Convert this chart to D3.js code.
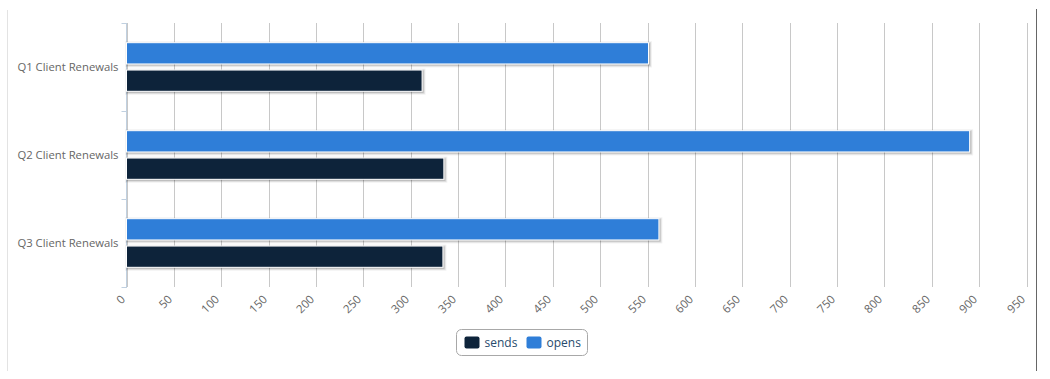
<!DOCTYPE html>
<html>
<head>
<meta charset="utf-8">
<script src="https://cdn.jsdelivr.net/npm/d3@7"></script>
<style>
  body { margin: 0; background: #fff; }
  svg { display: block; font-family: "Open Sans", "DejaVu Sans", sans-serif; }
</style>
</head>
<body>
<div id="chart"></div>
<script>
// chart values
var categories = ["Q1 Client Renewals", "Q2 Client Renewals", "Q3 Client Renewals"];
var seriesNames = ["sends", "opens"];
var sends = [312, 335, 334];
var opens = [551, 890, 562];
var xTicks = d3.range(0, 951, 50);

var colors = { sends: "#0d233a", opens: "#2f7ed8" };

var width = 1050, height = 379;
// note: "top" is taken by window.top, so use plotTop etc.
var plotLeft = 126.5, plotRight = 1026.5, plotTop = 23, plotBottom = 287;

var svg = d3.select("#chart")
    .append("svg")
    .attr("width", width)
    .attr("height", height);

// outer frame lines
svg.append("line")
    .attr("x1", 7.5).attr("x2", 7.5)
    .attr("y1", 10).attr("y2", 371)
    .style("stroke", "#e3e3e3");
svg.append("line")
    .attr("x1", 1036.5).attr("x2", 1036.5)
    .attr("y1", 9).attr("y2", 371)
    .style("stroke", "#666");

var x = d3.scaleLinear().domain([0, 950]).range([plotLeft, plotRight]);
var y = d3.scaleBand().domain(categories).range([plotTop, plotBottom]);
// opens on top, sends below
var inner = d3.scaleBand().domain(["opens", "sends"])
    .range([0, y.bandwidth()])
    .paddingOuter(0.72)
    .paddingInner(0.222);

// vertical grid lines
svg.append("g")
    .selectAll("line")
    .data(xTicks)
    .enter().append("line")
    .attr("x1", function (d) { return Math.round(x(d)) + 0.5; })
    .attr("x2", function (d) { return Math.round(x(d)) + 0.5; })
    .attr("y1", plotTop)
    .attr("y2", plotBottom)
    .style("stroke", "#c8c8c8");

// x tick labels, rotated
svg.append("g")
    .selectAll("text")
    .data(xTicks)
    .enter().append("text")
    .attr("transform", function (d) {
        return "translate(" + (Math.round(x(d)) - 1) + ",300) rotate(-45)";
    })
    .attr("text-anchor", "end")
    .style("font-size", "11.5px")
    .style("fill", "#666")
    .text(function (d) { return d; });

// y axis line with ticks at band edges
var yAxis = svg.append("g");
yAxis.append("line")
    .attr("x1", plotLeft).attr("x2", plotLeft)
    .attr("y1", plotTop).attr("y2", plotBottom + 1)
    .style("stroke", "#c0d0e0");
var edges = categories.map(function (c) { return y(c); }).concat([plotBottom]);
yAxis.selectAll(".tick")
    .data(edges)
    .enter().append("line")
    .attr("class", "tick")
    .attr("x1", plotLeft - 5).attr("x2", plotLeft)
    .attr("y1", function (d) { return d + 0.5; })
    .attr("y2", function (d) { return d + 0.5; })
    .style("stroke", "#c0d0e0");

svg.append("g")
    .selectAll("text")
    .data(categories)
    .enter().append("text")
    .attr("x", plotLeft - 8)
    .attr("y", function (d) { return y(d) + y.bandwidth() / 2 + 4; })
    .attr("text-anchor", "end")
    .style("font-size", "11.3px")
    .style("fill", "#666")
    .text(function (d) { return d; });

// bars
var rows = [];
categories.forEach(function (c, i) {
    rows.push({ cat: c, name: "opens", value: opens[i] });
    rows.push({ cat: c, name: "sends", value: sends[i] });
});

var bars = svg.append("g");

// soft shadow behind each bar
[[5, 0.05], [3, 0.1], [1, 0.15]].forEach(function (s) {
    bars.selectAll(".shadow" + s[0])
        .data(rows)
        .enter().append("rect")
        .attr("x", x(0) + 1)
        .attr("y", function (d) { return y(d.cat) + inner(d.name) + 1; })
        .attr("width", function (d) { return x(d.value) - x(0); })
        .attr("height", inner.bandwidth())
        .style("fill", "none")
        .style("stroke", "#000")
        .style("stroke-opacity", s[1])
        .style("stroke-width", s[0]);
});

bars.selectAll(".bar")
    .data(rows)
    .enter().append("rect")
    .attr("class", "bar")
    .attr("x", x(0))
    .attr("y", function (d) { return y(d.cat) + inner(d.name); })
    .attr("width", function (d) { return x(d.value) - x(0); })
    .attr("height", inner.bandwidth())
    .style("fill", function (d) { return colors[d.name]; })
    .style("stroke", "#fff")
    .style("stroke-width", 1);

// legend
var legend = svg.append("g").attr("transform", "translate(456.5,329.5)");
legend.append("rect")
    .attr("width", 131)
    .attr("height", 26)
    .attr("rx", 5)
    .style("fill", "#fff")
    .style("stroke", "#a8a8a8");

var itemX = [8, 70];
var item = legend.selectAll(".item")
    .data(seriesNames)
    .enter().append("g")
    .attr("class", "item")
    .attr("transform", function (d, i) { return "translate(" + itemX[i] + ",7)"; });
item.append("rect")
    .attr("width", 15)
    .attr("height", 12)
    .attr("rx", 2)
    .style("fill", function (d) { return colors[d]; });
item.append("text")
    .attr("x", 20)
    .attr("y", 10.5)
    .style("font-size", "12px")
    .style("fill", "#274b6d")
    .text(function (d) { return d; });
</script>
</body>
</html>
